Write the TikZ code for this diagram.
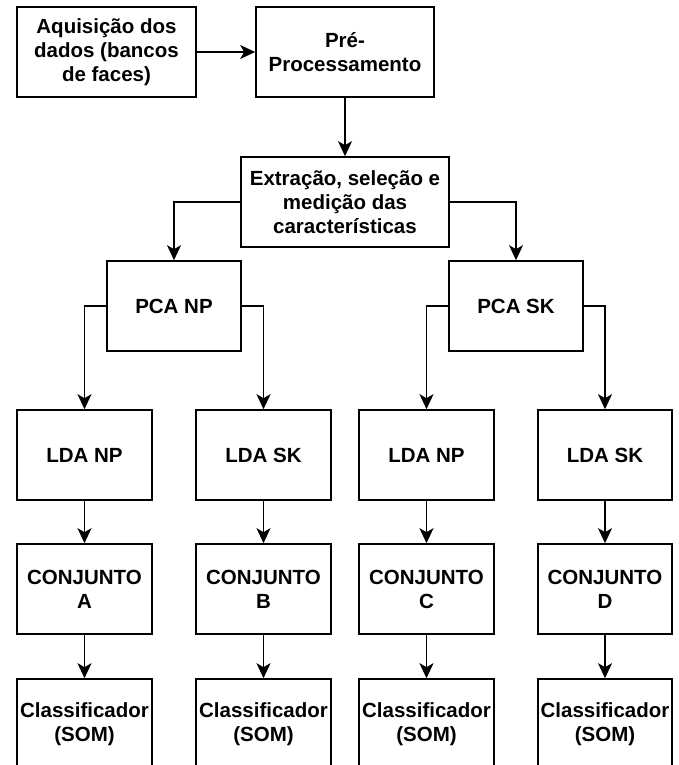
\documentclass[tikz,border=0pt]{standalone}
\usepackage{fontspec}
\setmainfont{Liberation Sans}
\usetikzlibrary{arrows.meta}
\begin{document}
\begin{tikzpicture}[x=1pt,y=1pt,
  box/.style={draw, line width=1.6pt, rectangle, inner sep=0pt, align=center,
    minimum height=90pt, font=\bfseries\fontsize{20.5}{24}\selectfont},
  conn/.style={line width=1.6pt, -{Stealth[length=15pt,width=14pt,inset=4pt]}}]
\useasboundingbox (0,0) rectangle (679,-765);
\clip (0,0) rectangle (679,-765);
\node[box, minimum width=179pt] (acq) at (106.5,-52) {Aquisição dos\\dados (bancos\\de faces)};
\node[box, minimum width=178pt] (pre) at (345,-52) {Pré-\\Processamento};
\node[box, minimum width=208pt] (ext) at (345,-202) {Extração, seleção e\\medição das\\características};
\node[box, minimum width=134pt] (pcanp) at (174,-306) {PCA NP};
\node[box, minimum width=134pt] (pcask) at (516,-306) {PCA SK};
\node[box, minimum width=135pt] (lda1) at (84.5,-455) {LDA NP};
\node[box, minimum width=135pt] (lda2) at (263.5,-455) {LDA SK};
\node[box, minimum width=135pt] (lda3) at (426.5,-455) {LDA NP};
\node[box, minimum width=134pt] (lda4) at (605,-455) {LDA SK};
\node[box, minimum width=135pt] (cj1) at (84.5,-589) {CONJUNTO\\A};
\node[box, minimum width=135pt] (cj2) at (263.5,-589) {CONJUNTO\\B};
\node[box, minimum width=135pt] (cj3) at (426.5,-589) {CONJUNTO\\C};
\node[box, minimum width=134pt] (cj4) at (605,-589) {CONJUNTO\\D};
\node[box, minimum width=135pt] (cl1) at (84.5,-724) {Classificador\\(SOM)};
\node[box, minimum width=135pt] (cl2) at (263.5,-724) {Classificador\\(SOM)};
\node[box, minimum width=135pt] (cl3) at (426.5,-724) {Classificador\\(SOM)};
\node[box, minimum width=134pt] (cl4) at (605,-724) {Classificador\\(SOM)};
\draw[conn] (acq.east) -- (pre.west);
\draw[conn] (pre.south) -- (ext.north);
\draw[conn] (ext.west) -| (pcanp.north);
\draw[conn] (ext.east) -| (pcask.north);
\draw[conn] (pcanp.west) -| (lda1.north);
\draw[conn] (pcanp.east) -| (lda2.north);
\draw[conn] (pcask.west) -| (lda3.north);
\draw[conn] (pcask.east) -| (lda4.north);
\foreach \i in {1,2,3,4} {
  \draw[conn] (lda\i.south) -- (cj\i.north);
  \draw[conn] (cj\i.south) -- (cl\i.north);
}
\end{tikzpicture}
\end{document}
